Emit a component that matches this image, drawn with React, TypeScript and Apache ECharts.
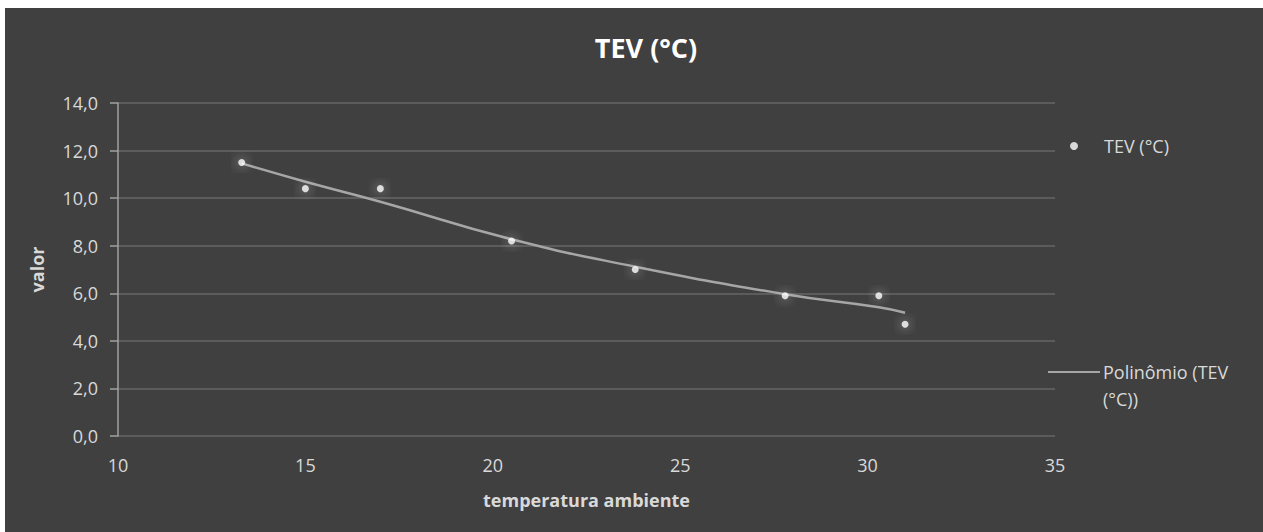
import React, { useEffect, useRef } from "react";
import * as echarts from "echarts";

const titleText = "TEV (°C)";
const xAxisName = "temperatura ambiente";
const yAxisName = "valor";
const seriesName = "TEV (°C)";
const trendName = "Polinômio (TEV (°C))";
const trendLegendLine1 = "Polinômio (TEV";
const trendLegendLine2 = "(°C))";

// Observed points (temperatura ambiente, valor)
const tempValues = [13.3, 15.0, 17.0, 20.5, 23.8, 27.8, 30.3, 31.0];
const tevValues = [11.5, 10.4, 10.4, 8.2, 7.0, 5.9, 5.9, 4.7];

// Polynomial trend line
const trendX = [13.3, 15.0, 17.0, 20.5, 23.8, 27.8, 30.3, 31.0];
const trendY = [11.46, 10.69, 9.85, 8.27, 7.12, 5.96, 5.41, 5.18];

const xMin = 10, xMax = 35, xInterval = 5;
const yMin = 0, yMax = 14, yInterval = 2;

export default function App() {
  const ref = useRef<HTMLDivElement>(null);
  useEffect(() => {
    if (!ref.current) return;
    const chart = echarts.init(ref.current, undefined, { renderer: "svg" });
    const font = "'Open Sans', Lato, sans-serif";
    const labelColor = "#d9d9d9";
    chart.setOption({
      animation: false,
      backgroundColor: "#404040",
      textStyle: { fontFamily: font },
      title: {
        text: titleText,
        left: 636,
        top: 21,
        textAlign: "center",
        textStyle: { color: "#ffffff", fontSize: 27, fontWeight: "bold", fontFamily: font },
      },
      grid: { left: 113, right: 208, top: 95, bottom: 96 },
      legend: [
        {
          data: [{ name: seriesName, icon: "circle" }],
          left: 1065,
          top: 129,
          padding: 0,
          itemWidth: 8,
          itemHeight: 8,
          textStyle: { color: labelColor, fontSize: 18, padding: [0, 0, 0, 21], fontFamily: font },
        },
        {
          data: [{ name: trendName, icon: "rect" }],
          left: 1043,
          top: 355,
          padding: 0,
          itemWidth: 52,
          itemHeight: 2,
          formatter: () => trendLegendLine1,
          textStyle: { color: labelColor, fontSize: 18, padding: [0, 0, 0, -2], fontFamily: font },
        },
      ],
      graphic: [
        {
          type: "text",
          left: 1098,
          top: 382,
          style: { text: trendLegendLine2, fill: labelColor, fontSize: 18, fontFamily: font },
        },
      ],
      xAxis: {
        type: "value",
        min: xMin,
        max: xMax,
        interval: xInterval,
        name: xAxisName,
        nameLocation: "middle",
        nameGap: 55,
        nameTextStyle: { color: labelColor, fontSize: 18, fontWeight: "bold", fontFamily: font },
        axisLine: { show: false },
        axisTick: { show: false },
        splitLine: { show: false },
        axisLabel: { color: labelColor, fontSize: 18, margin: 20, fontFamily: font },
      },
      yAxis: {
        type: "value",
        min: yMin,
        max: yMax,
        interval: yInterval,
        name: yAxisName,
        nameLocation: "middle",
        nameGap: 72,
        nameRotate: 90,
        nameTextStyle: { color: labelColor, fontSize: 18, fontWeight: "bold", fontFamily: font },
        axisLine: { show: true, lineStyle: { color: "#a0a0a0", width: 1.5 } },
        axisTick: { show: true, length: 8, lineStyle: { color: "#a0a0a0", width: 1.5 } },
        splitLine: { show: true, lineStyle: { color: "#5c5c5c", width: 2 } },
        axisLabel: {
          color: labelColor,
          fontSize: 18,
          margin: 20,
          fontFamily: font,
          formatter: (v: number) => v.toFixed(1).replace(".", ","),
        },
      },
      series: [
        {
          name: trendName,
          type: "line",
          data: trendX.map((x, i) => [x, trendY[i]]),
          smooth: true,
          showSymbol: false,
          symbol: "none",
          z: 2,
          itemStyle: { color: "#a6a6a6" },
          lineStyle: { color: "#a6a6a6", width: 2.5 },
        },
        {
          name: seriesName,
          type: "scatter",
          data: tempValues.map((x, i) => [x, tevValues[i]]),
          symbolSize: 7,
          z: 3,
          itemStyle: {
            color: "#ffffff",
            shadowBlur: 12,
            shadowColor: "rgba(255,255,255,0.85)",
          },
        },
      ],
    });
    return () => chart.dispose();
  }, []);
  return (
    <div
      ref={ref}
      style={{ position: "absolute", left: 5, top: 8, width: 1258, height: 524 }}
    />
  );
}
